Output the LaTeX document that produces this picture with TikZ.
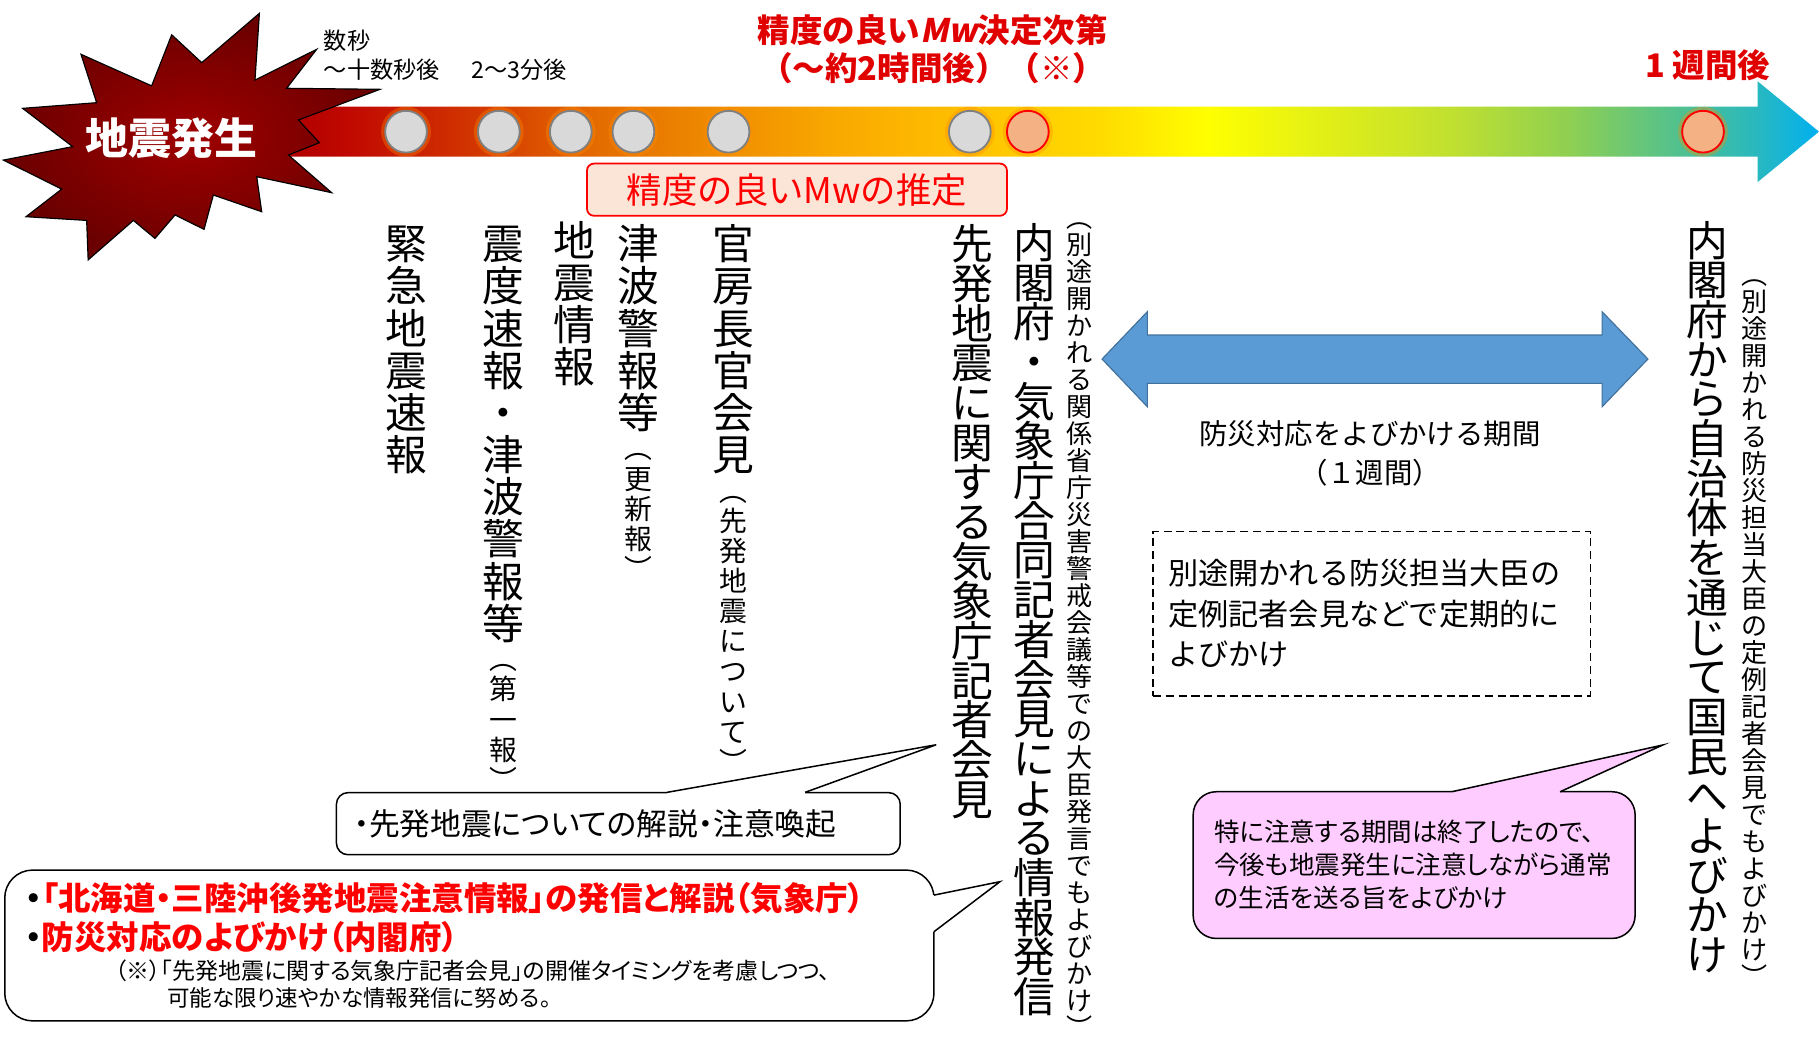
\documentclass[tikz,border=0pt]{standalone}
\usepackage{fontspec}
\usepackage{tikz}
\usetikzlibrary{positioning}
\setmainfont{Noto Sans CJK JP}
\newfontfamily\propjp[RawFeature=+palt]{Noto Sans CJK JP}
\newfontfamily\slantjp[FakeSlant=0.2]{Noto Sans CJK JP}

\definecolor{quake}{HTML}{A00000}
\definecolor{quakedark}{HTML}{6A0000}
\definecolor{tl0}{HTML}{B00000}
\definecolor{tl1}{HTML}{C00800}
\definecolor{tl2}{HTML}{D43A00}
\definecolor{tl3}{HTML}{E46C00}
\definecolor{tl4}{HTML}{EF8C00}
\definecolor{tl5}{HTML}{F9A800}
\definecolor{tl6}{HTML}{FFC000}
\definecolor{tl7}{HTML}{FFDC00}
\definecolor{tl8}{HTML}{FFFF00}
\definecolor{tl9}{HTML}{E0EE18}
\definecolor{tl10}{HTML}{C0E030}
\definecolor{tl11}{HTML}{90D050}
\definecolor{tl12}{HTML}{50C090}
\definecolor{tl13}{HTML}{28B8C0}
\definecolor{tl14}{HTML}{00B0F0}
\definecolor{dotgray}{HTML}{D9D9D9}
\definecolor{dotline}{HTML}{808080}
\definecolor{glow}{HTML}{FF8C00}
\definecolor{salmon}{HTML}{F4B183}
\definecolor{peach}{HTML}{FBE5D6}
\definecolor{period}{HTML}{5B9BD5}
\definecolor{periodline}{HTML}{41719C}
\definecolor{pinkbox}{HTML}{FFCCFF}
\definecolor{alert}{HTML}{FF0000}
\definecolor{titlered}{HTML}{E00000}

\pgfdeclarehorizontalshading{timeline}{100bp}{color(0bp)=(tl0); color(25bp)=(tl0);
  color(26.9bp)=(tl1); color(31.4bp)=(tl2); color(35.1bp)=(tl3); color(39bp)=(tl4);
  color(42.8bp)=(tl5); color(47bp)=(tl6); color(51.6bp)=(tl7); color(55bp)=(tl8);
  color(59.1bp)=(tl9); color(63bp)=(tl10); color(66.7bp)=(tl11); color(70.5bp)=(tl12);
  color(73bp)=(tl13); color(75bp)=(tl14); color(100bp)=(tl14)}

% vertical text: one character per line, optional depth sets the pitch
\ExplSyntaxOn
\NewDocumentCommand\tate{O{.13em}m}{
  \vbox{\offinterlineskip
    \tl_map_inline:nn {#2}
      {\hbox_to_wd:nn {1em} {\hss\vrule~height~.88em~depth~#1~width~0pt~\smash{##1}\hss}}}}
\ExplSyntaxOff

\tikzset{
  tate big/.style={anchor=north, inner sep=0pt, font=\fontsize{36}{36}\selectfont},
  tate small/.style={anchor=north, inner sep=0pt, font=\fontsize{22.5}{22.5}\selectfont},
  tate note/.style={anchor=north, inner sep=0pt, font=\fontsize{24}{24}\selectfont},
  dot/.style={circle, minimum size=36pt, inner sep=0pt, line width=1.6pt, draw=dotline,
    fill=dotgray, preaction={draw=glow, line width=7pt, draw opacity=.35}},
  mw dot/.style={dot, draw=red, fill=salmon},
  red title/.style={text=titlered, align=center, font=\fontsize{28}{33}\selectfont\bfseries},
  callout/.style={draw, line width=1.3pt, rounded corners=#1, fill=white},
  callout/.default=10pt,
  line text/.style={anchor=west, inner sep=0pt}
}

\begin{document}
\begin{tikzpicture}[x=1pt, y=-1pt]
\useasboundingbox (0,0) rectangle (1568,911);

% Time line arrow
\shade[shading=timeline] (250,92) -- (1515,92) -- (1515,70) -- (1568,113.5)
  -- (1515,157) -- (1515,135) -- (250,135) -- cycle;

% Earthquake burst
\shade[draw=black, line width=1pt, inner color=quake, outer color=quakedark]
  (223.6,11.5) -- (173.9,54) -- (148,30) -- (130.7,74) -- (69.8,46.8) -- (83.3,88.5)
  -- (19.5,93.4) -- (62.6,126.4) -- (2.9,138) -- (53.2,163) -- (22.4,186.8) -- (74.7,190)
  -- (76,224) -- (115,190) -- (133.6,205.5) -- (150.9,185.3) -- (175.9,197.7) -- (183.9,168.1)
  -- (225.6,182.5) -- (221.3,152.3) -- (285.9,166.1) -- (248.6,133.6) -- (275.3,123)
  -- (257.2,103.4) -- (327.6,77) -- (247.1,76.1) -- (273,42.5) -- (219.8,69) -- cycle;
\node[text=white, font=\fontsize{37}{37}\selectfont\bfseries] (quake) at (147.5,119) {地震発生};

% Dots on the time line
\foreach \x [count=\i] in {350,430,492,546,628,836}
  \node[dot] (d\i) at (\x,113.5) {};
\node[mw dot] (mw) at (886,113.5) {};
\node[mw dot] (week) at (1468,113.5) {};

% Times above the arrow
\node[anchor=west, align=left, inner sep=0pt, font=\fontsize{20}{25}\selectfont] (sec) at (279,47.5) {数秒\\〜十数秒後};
\node[line text, font=\fontsize{20}{25}\selectfont] (minute) at (406,60) {2〜3分後};
\node[red title] (mwtime) at (804,42.5) {精度の良い{\slantjp\bfseries Mw}決定次第\\（〜約2時間後）（※）};
\node[red title] (week label) at (1472,56) {1 週間後};

% Mw estimate
\node[draw=alert, fill=peach, line width=1.5pt, rounded corners=6pt, minimum width=362pt,
  minimum height=45pt, inner sep=0pt, text=alert, font=\fontsize{30.5}{30.5}\selectfont]
  (mwbox) at (687,163.5) {精度の良いMwの推定};

% Announcements (vertical)
\node[tate big] (kinkyu) at (350,192) {\tate{緊急地震速報}};
\node[tate big] (shindo) at (434,192) {\tate{震度速報・津波警報等}};
\node[tate note] (shindo note) at (shindo.south) {\tate[.203em]{︵第一報︶}};
\node[tate big] (jishin) at (495,189) {\tate{地震情報}};
\node[tate big] (tsunami) at (550,192) {\tate{津波警報等}};
\node[tate note] (tsunami note) at (tsunami.south) {\tate[.203em]{︵更新報︶}};
\node[tate big] (kanbo) at (632,192) {\tate{官房長官会見}};
\node[tate note] (kanbo note) at (kanbo.south) {\tate[.203em]{︵先発地震について︶}};
\node[tate big] (kisho) at (838,192) {\tate[.07em]{先発地震に関する気象庁記者会見}};
\node[tate big] (godo) at (892,191) {\tate[.07em]{内閣府・気象庁合同記者会見による情報発信}};
\node[tate small] (godo note) at (931,176) {\tate[.155em]{︵別途開かれる関係省庁災害警戒会議等での大臣発言でもよびかけ︶}};
\node[tate big] (jichitai) at (1472,189) {\tate[.07em]{内閣府から自治体を通じて国民へよびかけ}};
\node[tate small] (jichitai note) at (1512,225) {\tate[.155em]{︵別途開かれる防災担当大臣の定例記者会見でもよびかけ︶}};

% Period of one week
\draw[fill=period, draw=periodline, line width=1pt] (950,309.5) -- (989,268.7) -- (989,288.8)
  -- (1381,288.8) -- (1381,268.7) -- (1420.5,309.5) -- (1381,350.6) -- (1381,330.5)
  -- (989,330.5) -- (989,350.6) -- cycle;
\node[align=center, font=\fontsize{24.5}{34}\selectfont] (period) at (1181,391) {防災対応をよびかける期間\\（１週間）};
\node[draw, dash pattern=on 7pt off 4pt, line width=1.3pt, minimum width=377pt, minimum height=142pt,
  inner xsep=13pt, text width=351pt, align=left, font=\fontsize{26}{35}\selectfont]
  (teirei) at (1182.5,529) {別途開かれる防災担当大臣の\\定例記者会見などで定期的に\\よびかけ};

% Callout: explanation
\node[callout, minimum width=486pt, minimum height=53.5pt, inner xsep=15pt, text width=456pt,
  align=left, font=\propjp\fontsize{26.5}{30}\selectfont] (kaisetsu) at (533,710) {・先発地震についての解説・注意喚起};
\fill[white] (575,685) -- (575,683) -- (807,642) -- (694,683) -- (694,685) -- cycle;
\draw[line width=1.3pt] (575,683) -- (807,642) -- (694,683);

% Callout: information release
\node[callout=24pt, minimum width=801pt, minimum height=130pt] (notice) at (404.6,815) {};
\fill[white] (802,771.6) -- (805,771.6) -- (862,760) -- (805,803.2) -- (802,803.2) -- cycle;
\draw[line width=1.3pt] (805,771.6) -- (862,760) -- (805,803.2);
\node[line text, font=\propjp\fontsize{28}{28}\selectfont\bfseries] (notice1) at (22,774.4)
  {・\textcolor{alert}{「北海道・三陸沖後発地震注意情報」の発信と解説（気象庁）}};
\node[line text, font=\propjp\fontsize{28}{28}\selectfont\bfseries] (notice2) at (22,807.5)
  {・\textcolor{alert}{防災対応のよびかけ（内閣府）}};
\node[line text, font=\propjp\fontsize{19.8}{19.8}\selectfont] (notice3) at (99,836.8)
  {（※）「先発地震に関する気象庁記者会見」の開催タイミングを考慮しつつ、};
\node[line text, font=\propjp\fontsize{19.4}{19.4}\selectfont] (notice4) at (144,860.6)
  {可能な限り速やかな情報発信に努める。};

% Callout: end of the period
\node[callout=20pt, fill=pinkbox, minimum width=381pt, minimum height=126.5pt, inner xsep=18pt,
  text width=345pt, align=left, font=\propjp\fontsize{22}{28.5}\selectfont]
  (shuryo) at (1219,745.7) {特に注意する期間は終了したので、\\今後も地震発生に注意しながら通常\\の生活を送る旨をよびかけ};
\fill[pinkbox] (1251.4,685) -- (1251.4,682.5) -- (1433.3,642.2) -- (1344.8,682.5) -- (1344.8,685) -- cycle;
\draw[line width=1.3pt] (1251.4,682.5) -- (1433.3,642.2) -- (1344.8,682.5);
\end{tikzpicture}
\end{document}
